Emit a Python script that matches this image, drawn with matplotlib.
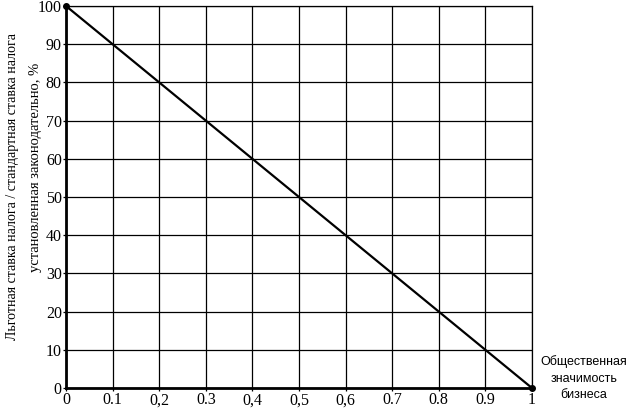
import matplotlib.pyplot as plt

plt.rcParams['font.family'] = ['Liberation Serif', 'DejaVu Serif']

# значимость бизнеса и льготная ставка
x_vals = [0, 1]
y_vals = [100, 0]
x_ticks = [0, 0.1, 0.2, 0.3, 0.4, 0.5, 0.6, 0.7, 0.8, 0.9, 1]
x_labels = ["0", "0.1", "0,2", "0.3", "0,4", "0,5", "0,6", "0.7", "0.8", "0.9", "1"]
y_ticks = [0, 10, 20, 30, 40, 50, 60, 70, 80, 90, 100]

fig = plt.figure(figsize=(6.33, 4.09), dpi=100)
ax = fig.add_axes([0.1043, 0.0513, 0.7361, 0.934])

ax.plot(x_vals, y_vals, color="black", lw=1.6, marker="o", markersize=4, clip_on=False, zorder=5)

ax.set_xlim(0, 1)
ax.set_ylim(0, 100)
ax.set_xticks(x_ticks)
ax.set_xticklabels(x_labels)
ax.set_yticks(y_ticks)
ax.grid(True, color="black", lw=0.9)
ax.tick_params(axis="both", labelsize=11.5, length=2, width=0.9, pad=1)

for s in ["top", "right"]:
    ax.spines[s].set_linewidth(0.9)
for s in ["left", "bottom"]:
    ax.spines[s].set_linewidth(2)

# подпись оси Y в две строки
fig.text(0.019, 0.545, "Льготная ставка налога / стандартная ставка налога",
         rotation=90, ha="center", va="center", fontsize=10)
fig.text(0.056, 0.59, "установленная законодательно, %",
         rotation=90, ha="center", va="center", fontsize=10.5)

fig.text(0.922, 0.075, "Общественная\nзначимость\nбизнеса", ha="center", va="center",
         fontsize=9, family=["Liberation Sans", "DejaVu Sans"], linespacing=1.5)

fig.savefig("out.png", dpi=100)
